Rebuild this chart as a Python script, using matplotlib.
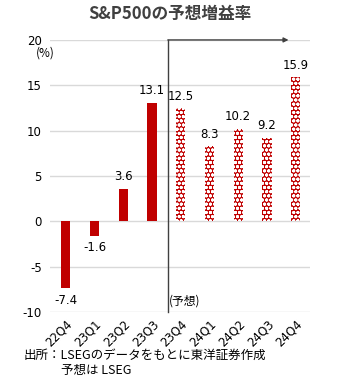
import matplotlib
matplotlib.use("Agg")
import matplotlib.pyplot as plt
import numpy as np

plt.rcParams['font.family'] = ['Noto Sans CJK JP', 'DejaVu Sans']
plt.rcParams['hatch.linewidth'] = 1.0

quarters = ['22Q4', '23Q1', '23Q2', '23Q3', '23Q4', '24Q1', '24Q2', '24Q3', '24Q4']
growth = [-7.4, -1.6, 3.6, 13.1, 12.5, 8.3, 10.2, 9.2, 15.9]
is_forecast = [False, False, False, False, True, True, True, True, True]

red = '#C00000'

fig = plt.figure(figsize=(3.4, 3.84), dpi=100)
ax = fig.add_axes([0.147, 0.1875, 0.765, 0.7085])

x = np.arange(len(quarters))
for xi, v, fc in zip(x, growth, is_forecast):
    if fc:
        ax.bar(xi, v, width=0.32, color=red, edgecolor='white', hatch='oooo', linewidth=0)
    else:
        ax.bar(xi, v, width=0.32, color=red, linewidth=0)
    if v >= 0:
        ax.text(xi, v + 0.6, f'{v}', ha='center', va='bottom', fontsize=8.5,
                family='DejaVu Sans')
    else:
        ax.text(xi, v - 0.6, f'{v}', ha='center', va='top', fontsize=8.5,
                family='DejaVu Sans')

ax.set_ylim(-10, 20)
ax.set_xlim(-0.55, 8.5)
ax.set_yticks(np.arange(-10, 21, 5))
ax.set_yticklabels([str(t) for t in range(-10, 21, 5)], family='DejaVu Sans', fontsize=8.5)
ax.set_xticks(x)
ax.set_xticklabels(quarters, rotation=45, ha='right', rotation_mode='anchor',
                   family='DejaVu Sans', fontsize=8.5)
ax.tick_params(length=0, pad=6)
ax.tick_params(axis='x', pad=4)
ax.grid(axis='y', color='#d9d9d9', linewidth=1)
ax.set_axisbelow(True)
for s in ax.spines.values():
    s.set_visible(False)

# forecast divider and arrow
ax.plot([3.55, 3.55], [-10, 20], color='#404040', linewidth=1, clip_on=False)
ax.annotate('', xy=(7.75, 20), xytext=(3.55, 20),
            arrowprops=dict(arrowstyle='-|>', color='#404040', lw=1,
                            mutation_scale=7, shrinkA=0, shrinkB=0),
            annotation_clip=False)
ax.text(3.6, -8.8, '(予想)', fontsize=8.5, ha='left', va='center')

ax.text(-0.7, 18.6, '(%)', fontsize=8.5, ha='center', va='center')

fig.text(0.5, 0.963, 'S&P500の予想増益率', ha='center', va='center',
         fontsize=12, fontweight='bold', color='#404040')
fig.text(0.07, 0.075, '出所：LSEGのデータをもとに東洋証券作成', fontsize=9, va='center')
fig.text(0.18, 0.035, '予想は LSEG', fontsize=9, va='center')

fig.savefig('out.png', dpi=100)
